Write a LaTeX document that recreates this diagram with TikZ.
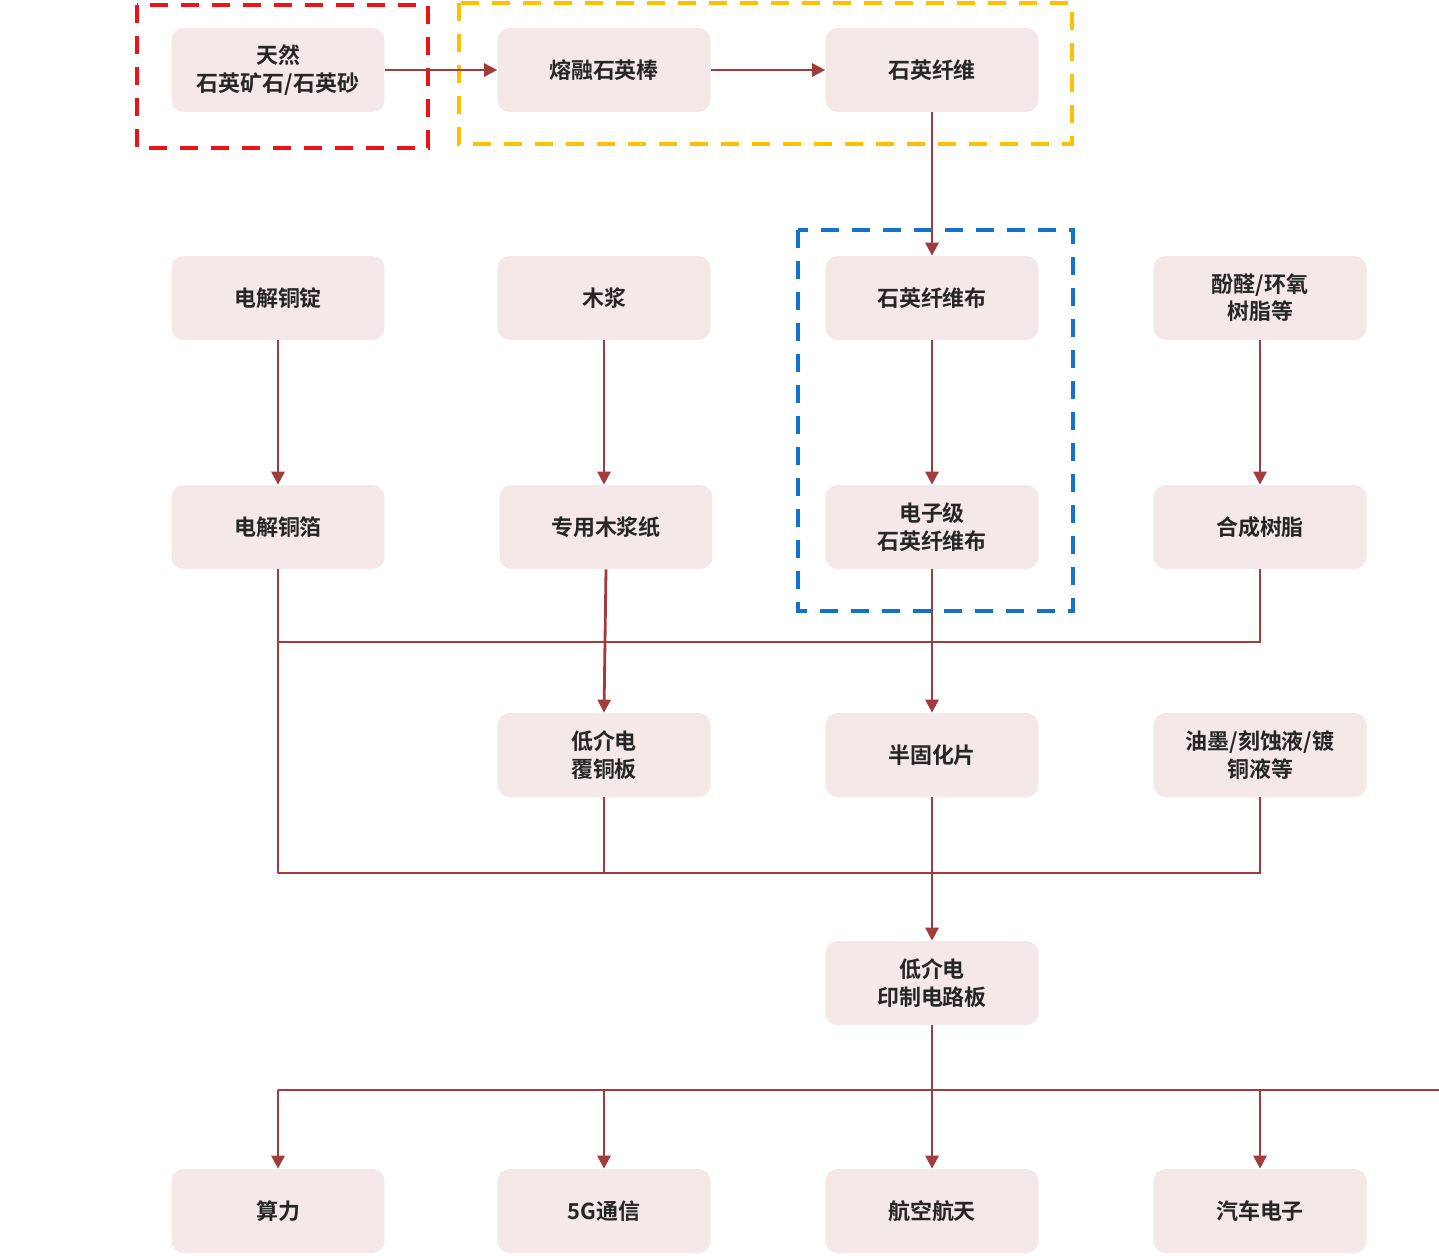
\documentclass[tikz,border=0pt]{standalone}
\usepackage{fontspec}
\setmainfont{Noto Sans CJK SC}
\newfontfamily\cjkbold{Noto Sans CJK SC Bold}
\usetikzlibrary{arrows.meta}
\definecolor{boxfill}{RGB}{245,232,232}
\definecolor{linkred}{RGB}{160,60,60}
\definecolor{frameRed}{RGB}{235,20,25}
\definecolor{frameGold}{RGB}{255,192,0}
\definecolor{frameBlue}{RGB}{20,115,200}
\begin{document}
\begin{tikzpicture}[
    x=0.02cm, y=-0.02cm,
    box/.style={fill=boxfill, rounded corners=0.24cm, minimum width=4.26cm, minimum height=1.68cm, align=center, font=\cjkbold\fontsize{12.5}{15.5}\selectfont, text=black!85},
    arrow/.style={-{Triangle[width=0.26cm, length=0.26cm]}, line width=1.6pt, draw=linkred},
    link/.style={line width=1.6pt, draw=linkred},
    frame/.style={dashed, line width=2.4pt, dash pattern=on 0.36cm off 0.26cm, draw=#1}
]
    \useasboundingbox (0,0) rectangle (1439,1255);

    % Raw quartz to quartz fibre
    \node[box] (ore) at (278,70) {天然\\石英矿石/石英砂};
    \node[box] (rod) at (604,70) {熔融石英棒};
    \node[box] (fibre) at (932,70) {石英纤维};

    % Upstream materials
    \node[box] (ingot) at (278,298) {电解铜锭};
    \node[box] (pulp) at (604,298) {木浆};
    \node[box] (cloth) at (932,298) {石英纤维布};
    \node[box] (phenol) at (1260,298) {酚醛/环氧\\树脂等};

    % Intermediate materials
    \node[box] (foil) at (278,527) {电解铜箔};
    \node[box] (paper) at (606,527) {专用木浆纸};
    \node[box] (ecloth) at (932,527) {电子级\\石英纤维布};
    \node[box] (resin) at (1260,527) {合成树脂};

    % Laminates and chemicals
    \node[box] (ccl) at (604,755) {低介电\\覆铜板};
    \node[box] (prepreg) at (932,755) {半固化片};
    \node[box] (ink) at (1260,755) {油墨/刻蚀液/镀\\铜液等};

    % Circuit board
    \node[box] (pcb) at (932,983) {低介电\\印制电路板};

    % Applications
    \node[box] (compute) at (278,1211) {算力};
    \node[box] (fiveg) at (604,1211) {5G通信};
    \node[box] (aero) at (932,1211) {航空航天};
    \node[box] (auto) at (1260,1211) {汽车电子};

    % Bus lines
    \coordinate (busA) at (0,642);
    \coordinate (busB) at (0,873);
    \coordinate (busC) at (1439,1090);

    % Dashed frames
    \draw[frame=frameRed] (137,5) rectangle (428,148);
    \draw[frame=frameGold] (459,3) rectangle (1072,144);
    \draw[frame=frameBlue] (798,230) rectangle (1073,611);

    % Arrows
    \draw[arrow] (ore) -- (rod);
    \draw[arrow] (rod) -- (fibre);
    \draw[arrow] (fibre) -- (cloth);
    \draw[arrow] (ingot) -- (foil);
    \draw[arrow] (pulp) -- (pulp |- paper.north);
    \draw[arrow] (cloth) -- (ecloth);
    \draw[arrow] (phenol) -- (resin);
    \draw[arrow] (paper.south) -- (ccl.north);
    \draw[arrow] (ecloth) -- (prepreg);
    \draw[link] (resin.south) |- (foil.south |- busA);
    \draw[link] (foil.south) -- (foil.south |- busB);
    \draw[link] (ccl.south) -- (ccl.south |- busB);
    \draw[link] (ink.south) |- (foil.south |- busB);
    \draw[arrow] (prepreg) -- (pcb);
    \draw[arrow] (pcb) -- (aero);
    \draw[link] (compute.north |- busC) -- (busC);
    \draw[arrow] (compute.north |- busC) -- (compute);
    \draw[arrow] (fiveg.north |- busC) -- (fiveg);
    \draw[arrow] (auto.north |- busC) -- (auto);
\end{tikzpicture}
\end{document}
